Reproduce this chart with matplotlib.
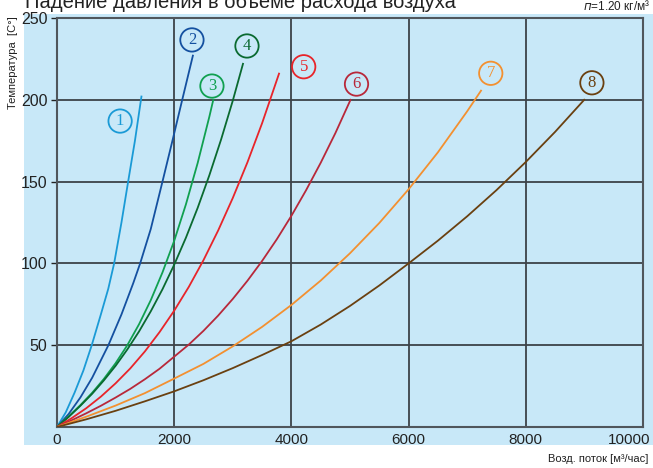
import numpy as np
import matplotlib
matplotlib.use("Agg")
import matplotlib.pyplot as plt
from matplotlib.patches import Rectangle
from matplotlib.transforms import ScaledTranslation

plt.rcParams['font.family'] = ['Liberation Sans', 'DejaVu Sans']

# расход воздуха [м3/час] и температура [C] для каждой кривой
q1 = [0, 150, 300, 450, 593, 750, 875, 975, 1100, 1214, 1330, 1441]
t1 = [0, 9, 21, 34.5, 50, 69, 84.5, 100, 125, 150, 175, 202]
q2 = [0, 200, 400, 600, 877, 1100, 1300, 1419, 1600, 1800, 1970, 2137, 2319]
t2 = [0, 8, 18.1, 30.1, 50, 68.8, 87.8, 100, 121, 150, 175, 200, 227]
q3 = [0, 200, 400, 600, 800, 1000, 1200, 1400, 1600, 1800, 2000, 2200,
      2400, 2600, 2667]
t3 = [0, 6.5, 13.4, 20.9, 29.4, 39.0, 50.0, 62.8, 77.5, 94.5, 113.8, 136.1,
      161.3, 189.7, 200]
q4 = [0, 200, 400, 600, 800, 1000, 1200, 1400, 1600, 1800, 2000, 2200,
      2400, 2600, 2800, 3000, 3174]
t4 = [0, 6.2, 13, 20.3, 28.5, 37.4, 47.4, 58.4, 70.7, 84.2, 99.2, 115.7,
      133.9, 153.9, 175.7, 199.5, 222]
q5 = [0, 250, 500, 750, 1000, 1250, 1500, 1750, 2000, 2250, 2500, 2750,
      3000, 3250, 3500, 3789]
t5 = [0, 5.4, 11.5, 18.6, 26.7, 35.8, 46.2, 58.0, 71.1, 85.7, 102, 120.1,
      140, 161.8, 185.7, 216]
q6 = [0, 250, 500, 750, 1000, 1250, 1500, 1750, 2000, 2250, 2500, 2750,
      3000, 3250, 3500, 3750, 4000, 4250, 4500, 4750, 5009]
t6 = [0, 4.1, 8.4, 13.0, 18.0, 23.3, 29.2, 35.6, 43.0, 50.4, 58.8, 68.1,
      78.3, 89.4, 101.5, 114.7, 129.1, 144.7, 161.5, 179.6, 200]
q7 = [0, 500, 1000, 1500, 2000, 2500, 3000, 3500, 4000, 4500, 5000, 5500,
      6000, 6500, 7000, 7236]
t7 = [0, 6.3, 13.1, 20.7, 29.6, 38.6, 49.3, 61.2, 74.6, 89.5, 106.2, 124.7,
      145.3, 167.9, 193, 205.6]
q8 = [0, 500, 1000, 1500, 2000, 2500, 3000, 3500, 4000, 4500, 5000, 5500,
      6000, 6500, 7000, 7500, 8000, 8500, 8997]
t8 = [0, 4.7, 9.9, 15.7, 21.8, 28.6, 36, 44, 52.4, 62.6, 74, 86.5,
      100, 113.9, 128.8, 144.8, 162, 180.4, 200]

# подписи кривых
label_q = [1077, 2303, 2644, 3242, 4210, 5111, 7402, 9128]
label_t = [187, 236.6, 208.4, 232.9, 220.2, 209.6, 216.2, 210.4]

colors = ['#1a9ad6', '#1450a0', '#10a050', '#0a6a30',
          '#e8242a', '#b8283a', '#f39030', '#6a4010']

xticks = [0, 2000, 4000, 6000, 8000, 10000]
yticks = [50, 100, 150, 200, 250]

fig = plt.figure(figsize=(6.53, 4.68), dpi=100)
bg = Rectangle((24/653, 23/468), 1 - 24/653, 431/468,
               transform=fig.transFigure, facecolor='#c8e8f8',
               edgecolor='none', zorder=-10)
fig.patches.append(bg)
ax = fig.add_axes([57/653, 41/468, 586/653, 409/468])
ax.set_facecolor('none')

curves = [(q1, t1), (q2, t2), (q3, t3), (q4, t4),
          (q5, t5), (q6, t6), (q7, t7), (q8, t8)]
for i, (q, t) in enumerate(curves):
    ax.plot(q, t, color=colors[i], lw=1.3, zorder=3, solid_joinstyle='round')
    ax.text(label_q[i], label_t[i], str(i + 1), color=colors[i],
            family='Liberation Serif', fontsize=12, ha='center', va='center',
            bbox=dict(boxstyle='circle,pad=0.22', fc='none', ec=colors[i], lw=1.3))

ax.set_xlim(0, 10000)
ax.set_ylim(0, 250)
ax.set_xticks(xticks)
ax.set_yticks(yticks)
for v in xticks[1:-1]:
    ax.axvline(v, color='#3c4248', lw=1.3, zorder=2)
for v in yticks[:-1]:
    ax.axhline(v, color='#3c4248', lw=1.3, zorder=2)
for s in ax.spines.values():
    s.set_color('#50565c')
    s.set_linewidth(1.5)
ax.tick_params(axis='x', length=0, pad=4, labelsize=11, colors='#222222')
ax.tick_params(axis='y', length=4, width=1, pad=3, labelsize=11.5,
               colors='#222222', direction='out')
last = ax.get_xticklabels()[-1]
last.set_horizontalalignment('right')
last.set_transform(last.get_transform() + ScaledTranslation(7/100, 0, fig.dpi_scale_trans))

fig.text(25/653, 1 - 8/468, 'Падение давления в объеме расхода воздуха',
         fontsize=14.5, color='#222222', ha='left', va='baseline')
fig.text(650/653, 1 - 10/468, r'$\mathit{п}$=1.20 кг/м³', fontsize=8.5,
         color='#222222', ha='right', va='baseline')
fig.text(13/653, 1 - 16/468, 'Температура  [C°]', fontsize=8, rotation=90,
         color='#222222', ha='center', va='top')
fig.text(648/653, 1 - 462/468, 'Возд. поток [м³/час]', fontsize=8,
         color='#222222', ha='right', va='baseline')

fig.savefig('out.png', dpi=100)
